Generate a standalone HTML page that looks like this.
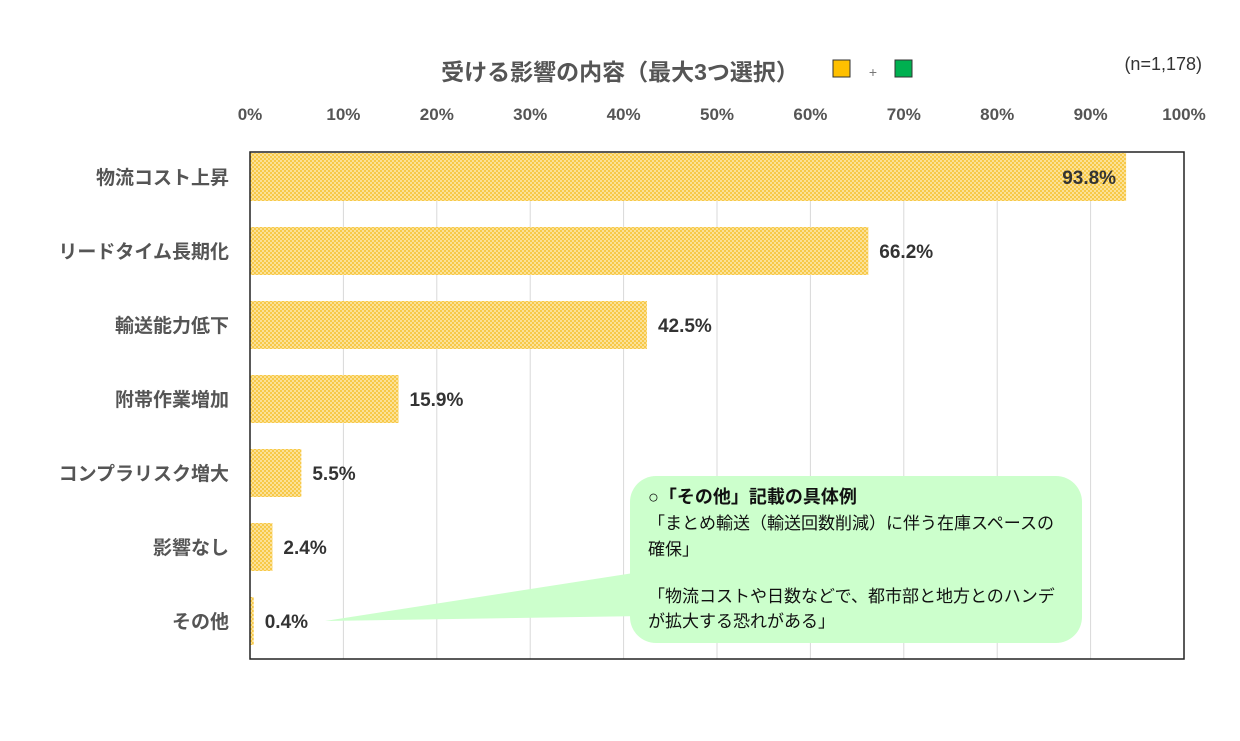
<!DOCTYPE html>
<html><head><meta charset="utf-8"><style>
body{margin:0;background:#fff;}
svg text{font-family:"Liberation Sans","Noto Sans CJK JP",sans-serif;}
</style></head><body>
<svg width="1240" height="736" viewBox="0 0 1240 736">
<defs>
<pattern id="dots" width="4" height="4" patternUnits="userSpaceOnUse">
<rect width="4" height="4" fill="#f7c948"/>
<circle cx="1" cy="1" r="0.9" fill="#fff3cf"/>
<circle cx="3" cy="3" r="0.9" fill="#fff3cf"/>
</pattern>
</defs>
<text x="620" y="80" text-anchor="middle" font-size="23" font-weight="bold" fill="#555">受ける影響の内容（最大3つ選択）</text>
<rect x="833" y="60" width="17" height="17" fill="#ffc000" stroke="#333" stroke-width="1"/>
<text x="873" y="77" text-anchor="middle" font-size="14" fill="#777">+</text>
<rect x="895" y="60" width="17" height="17" fill="#00b050" stroke="#333" stroke-width="1"/>
<text x="1202" y="70" text-anchor="end" font-size="18" fill="#333">(n=1,178)</text>
<g id="grid"></g>
<g id="bars"></g>
<rect x="250" y="152" width="934" height="507" fill="none" stroke="#222" stroke-width="1.5"/>
<polygon points="325,621 640,572 640,616" fill="#ccffcc"/>
<rect x="630" y="476" width="452" height="167" rx="26" fill="#ccffcc"/>
<g font-size="17" fill="#111">
<text x="648" y="503" font-size="18" font-weight="bold">○「その他」記載の具体例</text>
<text x="648" y="529">「まとめ輸送（輸送回数削減）に伴う在庫スペースの</text>
<text x="648" y="555">確保」</text>
<text x="648" y="602">「物流コストや日数などで、都市部と地方とのハンデ</text>
<text x="648" y="627">が拡大する恐れがある」</text>
</g>
</svg>
<script>
const categories=["物流コスト上昇","リードタイム長期化","輸送能力低下","附帯作業増加","コンプラリスク増大","影響なし","その他"];
const values=[93.8,66.2,42.5,15.9,5.5,2.4,0.4];
const ticks=[0,10,20,30,40,50,60,70,80,90,100];
const NS="http://www.w3.org/2000/svg";
const x0=250,x1=1184;
const xs=v=>x0+(x1-x0)*v/100;
const ys=i=>177+74*i;
const grid=document.getElementById('grid'),bars=document.getElementById('bars');
function mk(tag,attrs,parent){const e=document.createElementNS(NS,tag);for(const k in attrs)e.setAttribute(k,attrs[k]);parent.appendChild(e);return e;}
ticks.forEach(t=>{
 const l=mk('line',{x1:xs(t),x2:xs(t),y1:152,y2:659,stroke:'#d9d9d9','stroke-width':1},grid);
 
 
 const tx=mk('text',{x:xs(t),y:120,'text-anchor':'middle','font-size':17,'font-weight':'bold',fill:'#555'},grid);
 tx.textContent=t+'%';
 
 
});
categories.forEach((c,i)=>{
 const y=ys(i),v=values[i];
 const r=mk('rect',{x:x0,y:y-24,width:xs(v)-x0,height:48,fill:'url(#dots)'},bars);
 
 
 const lab=mk('text',{x:229,y:y+7,'text-anchor':'end','font-size':19,'font-weight':'bold',fill:'#555'},bars);
 lab.textContent=c;
 
 
 const inside=v>85;
 const val=mk('text',{x:inside?xs(v)-10:xs(v)+11,y:y+7,'text-anchor':inside?'end':'start','font-size':19,'font-weight':'bold',fill:'#333'},bars);
 val.textContent=v.toFixed(1)+'%';
 
 
});
</script>
</body></html>
